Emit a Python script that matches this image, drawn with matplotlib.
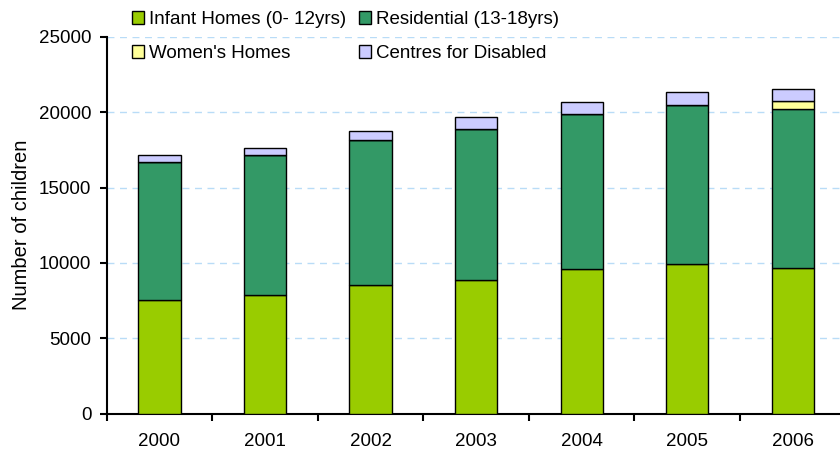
import matplotlib
matplotlib.use("Agg")
import matplotlib.pyplot as plt
import numpy as np

plt.rcParams['font.family'] = ['Liberation Sans', 'DejaVu Sans']

years = ["2000", "2001", "2002", "2003", "2004", "2005", "2006"]
infant = [7560, 7850, 8550, 8900, 9610, 9920, 9670]
residential = [9130, 9310, 9580, 9990, 10300, 10570, 10510]
womens = [0, 0, 0, 0, 0, 0, 530]
disabled = [440, 490, 600, 780, 760, 840, 850]
yticks = [0, 5000, 10000, 15000, 20000, 25000]

fig = plt.figure(figsize=(8.4, 4.54), dpi=100)
ax = fig.add_axes([106.7/840, 40.3/454, (845.6-106.7)/840, (413.7-36.8)/454])

x = np.arange(len(years))
w = 0.40
ek = dict(edgecolor='black', linewidth=1.0, zorder=3)
b1 = ax.bar(x, infant, w, color='#99CC00', label='Infant Homes (0- 12yrs)', **ek)
bot = np.array(infant)
b2 = ax.bar(x, residential, w, bottom=bot, color='#339966', label='Residential (13-18yrs)', **ek)
bot = bot + np.array(residential)
b3 = ax.bar(x, womens, w, bottom=bot, color='#FFFF99', label="Women's Homes", **ek)
bot = bot + np.array(womens)
b4 = ax.bar(x, disabled, w, bottom=bot, color='#CCCCFF', label='Centres for Disabled', **ek)

ax.set_xlim(-0.5, len(years) - 0.5)
ax.set_ylim(0, 25000)
ax.set_yticks(yticks)
ax.set_yticklabels([str(v) for v in yticks])
ax.set_xticks(x)
ax.set_xticklabels(years)
ax.set_xticks(np.arange(-0.5, len(years), 1.0), minor=True)
ax.tick_params(axis='x', which='major', length=0, pad=14, labelsize=13.5)
ax.tick_params(axis='x', which='minor', length=5, width=1.5, direction='out')
ax.tick_params(axis='y', length=5, width=1.5, direction='out', pad=6, labelsize=13.5)

for s in ['top', 'right']:
    ax.spines[s].set_visible(False)
for s in ['left', 'bottom']:
    ax.spines[s].set_linewidth(1.5)

ax.yaxis.grid(True, color='#b9dcf7', linestyle=(0, (5, 4)), linewidth=1.0, zorder=0)
ax.set_axisbelow(True)

ax.set_ylabel('Number of children', fontsize=14.5, labelpad=5.5)

fig.legend([b1, b3, b2, b4],
           ['Infant Homes (0- 12yrs)', "Women's Homes", 'Residential (13-18yrs)', 'Centres for Disabled'],
           ncol=2, frameon=False, loc='upper left', bbox_to_anchor=(131.7/840, 0.975),
           borderpad=0, borderaxespad=0,
           fontsize=13.5, handlelength=0.66, handleheight=0.66, handletextpad=0.27,
           columnspacing=0.67, labelspacing=0.88)

fig.savefig('out.png', dpi=100)
